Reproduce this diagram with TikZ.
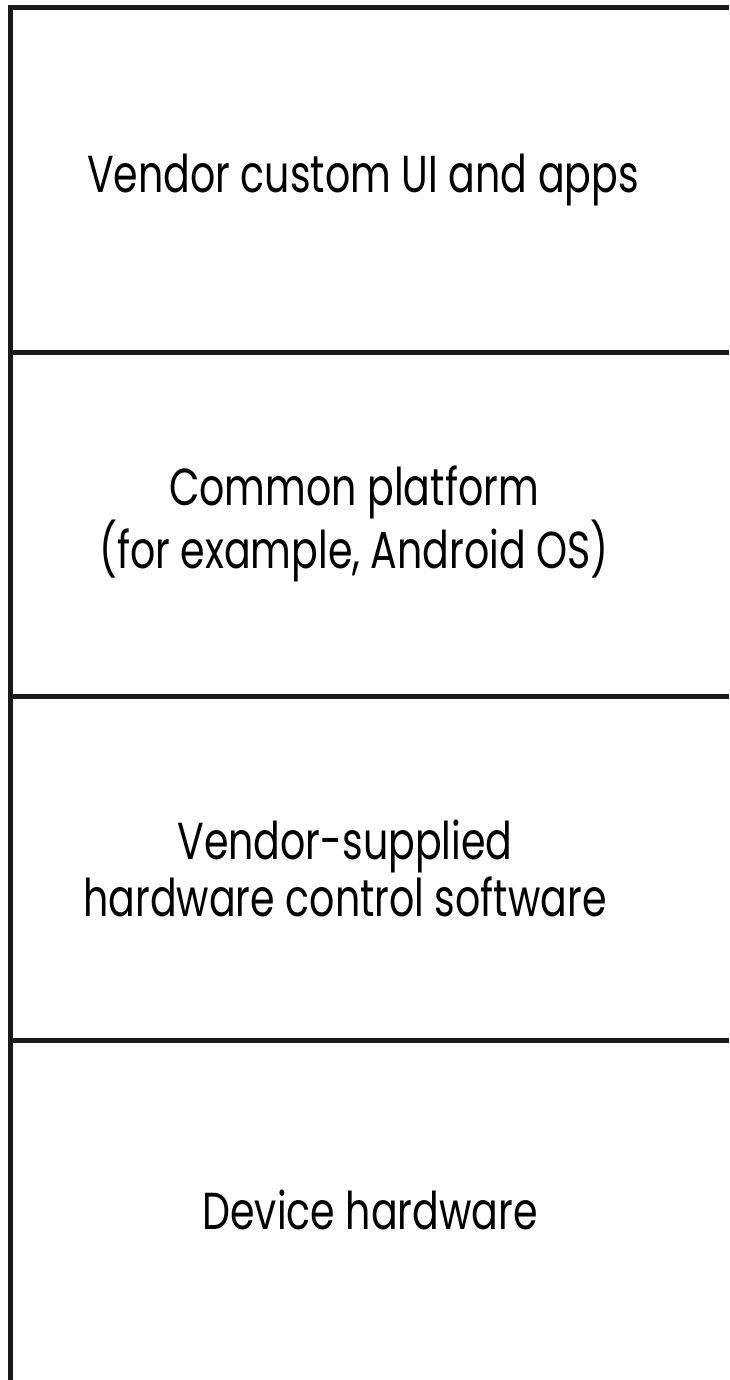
\documentclass[tikz,border=0pt]{standalone}
\usepackage{fontspec}
\setmainfont[FakeStretch=0.76]{Poppins}
\usepackage{tikz}
\usetikzlibrary{positioning}

\tikzset{
  divider/.style={line width=5pt,black!90},
  layerlabel/.style={align=center,inner sep=0pt,font=\fontsize{52}{57}\selectfont}
}

\begin{document}
\begin{tikzpicture}[x=1pt,y=-1pt]
  \useasboundingbox (0,0) rectangle (729,1380);
  % frame and layer borders
  \draw[divider] (10,1380) -- (10,8) -- (729,8);
  \draw[divider] (10,352) -- (729,352);
  \draw[divider] (10,696) -- (729,696);
  \draw[divider] (10,1040) -- (729,1040);
  % layer texts
  \node[layerlabel] (apps) at (363,180) {Vendor custom UI and apps};
  \node[layerlabel] (platform) at (354,524) {Common platform\\(for example, Android OS)};
  \node[layerlabel] (drivers) at (345,868) {Vendor-supplied\\hardware control software};
  \node[layerlabel] (hardware) at (370,1210) {Device hardware};
\end{tikzpicture}
\end{document}
